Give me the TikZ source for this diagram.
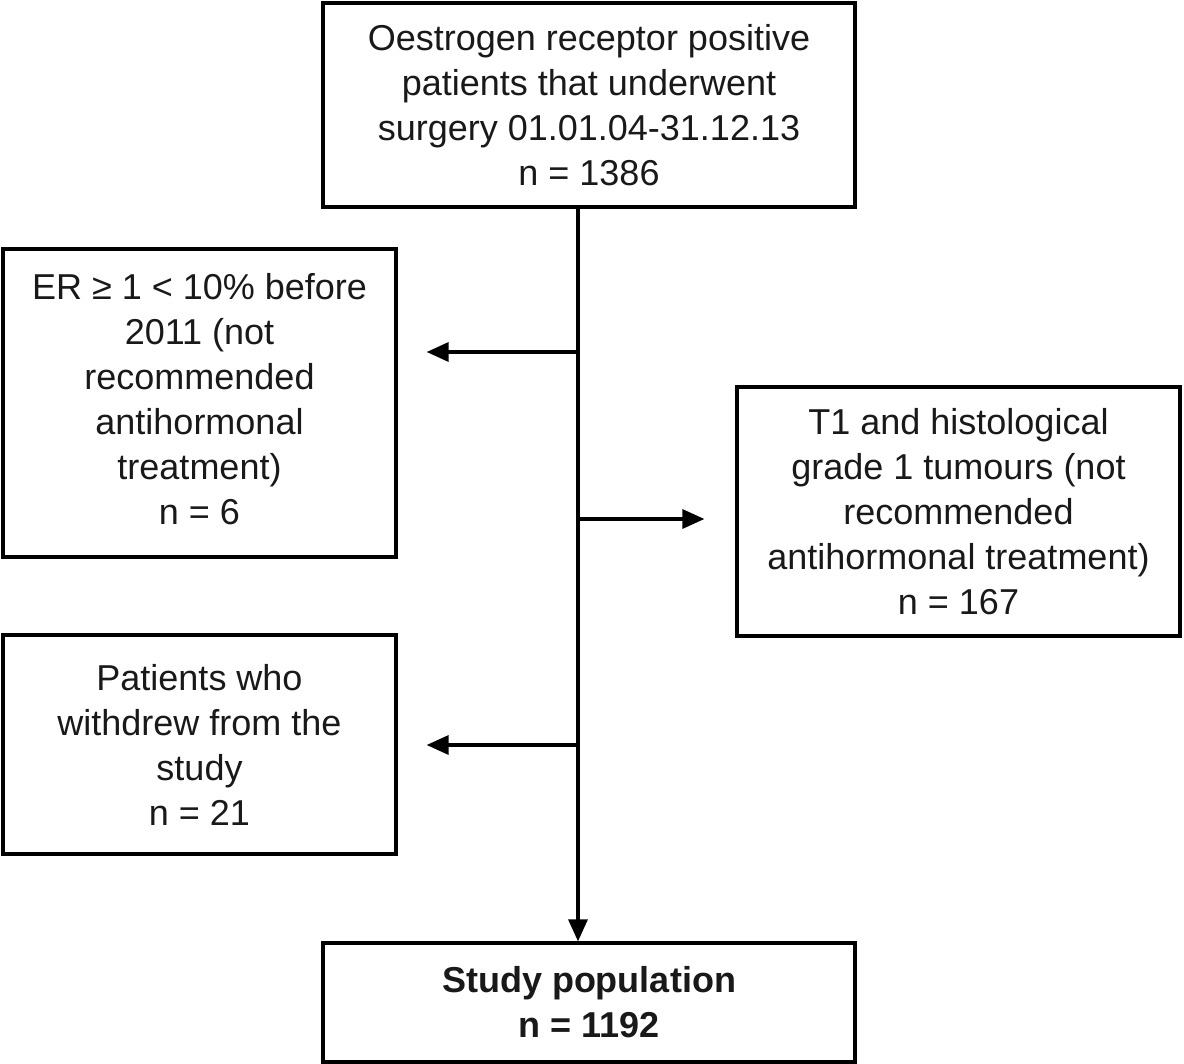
\documentclass[tikz,border=0pt]{standalone}
\usepackage{fontspec}
\setmainfont{Liberation Sans}
\usepackage{tikz}
\usetikzlibrary{arrows.meta, positioning, calc}

\begin{document}
\begin{tikzpicture}[
    x=1pt, y=-1pt,
    box/.style={rectangle, draw=black, line width=3.2pt, align=center, inner sep=0pt,
                font=\fontsize{36}{45}\selectfont, text=black!90},
    arrow/.style={-{Triangle[length=22pt, width=19pt]}, line width=3.2pt},
]
    \useasboundingbox (0,0) rectangle (1184,1064);

    \node[box, minimum width=532pt, minimum height=204pt] (cohort) at (589,105)
        {Oestrogen receptor positive\\patients that underwent\\surgery 01.01.04-31.12.13\\n = 1386};
    \node[box, minimum width=393pt, minimum height=308pt, text depth=8pt] (lowER) at (199.5,403)
        {ER ≥ 1 < 10\% before\\2011 (not\\recommended\\antihormonal\\treatment)\\n = 6};
    \node[box, minimum width=443pt, minimum height=249pt] (lowrisk) at (958.5,511.5)
        {T1 and histological\\grade 1 tumours (not\\recommended\\antihormonal treatment)\\n = 167};
    \node[box, minimum width=393pt, minimum height=219pt] (withdrew) at (199.5,744.5)
        {Patients who\\withdrew from the\\study\\n = 21};
    \node[box, minimum width=532pt, minimum height=119pt, font=\fontsize{36}{45}\selectfont\bfseries] (study) at (589,1002.5)
        {Study population\\n = 1192};

    % spine and branch points
    \coordinate (spine) at (578,0);
    \coordinate (b1) at (578,352);
    \coordinate (b2) at (578,519);
    \coordinate (b3) at (578,745);

    \draw[line width=3.2pt] (cohort.south -| spine) -- (b1) -- (b2) -- (b3);
    \draw[arrow] (b3) -- (study.north -| spine);
    \draw[arrow] (b1) -- ([xshift=29pt]lowER.east |- b1);
    \draw[arrow] (b2) -- ([xshift=-31pt]lowrisk.west |- b2);
    \draw[arrow] (b3) -- ([xshift=29pt]withdrew.east |- b3);
\end{tikzpicture}
\end{document}
